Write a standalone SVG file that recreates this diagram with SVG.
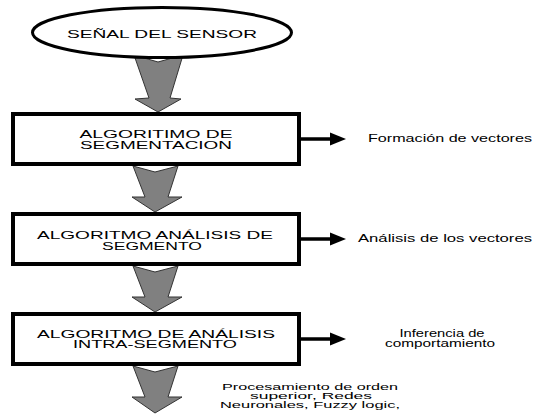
<svg xmlns="http://www.w3.org/2000/svg" width="534" height="415" viewBox="0 0 534 415">
<style>
.t{font-family:"Liberation Sans",Arial,sans-serif;font-size:11px;fill:#000;text-anchor:middle}
.s{font-family:"Liberation Sans",Arial,sans-serif;font-size:10.5px;fill:#000}
.b{font-family:"Liberation Sans",Arial,sans-serif;font-size:9px;fill:#000;text-anchor:middle}
.box{fill:#fff;stroke:#000;stroke-width:4}
.blk{fill:#808080;stroke:#333;stroke-width:1}
.side{stroke:#000;stroke-width:3.5;fill:none}
.head{fill:#000}
</style>
<rect width="534" height="415" fill="#fff"/>
<g id="connectors">
  <polygon class="blk" points="134,55 158,62 183,55 170,98 181,99 158,112 135,99 149,98"/>
  <polygon class="blk" points="133,166 155,172 178,166 168,197 182,197 155,212 132,197 145,197"/>
  <polygon class="blk" points="133,266 155,272 178,266 168,297 182,297 155,312 132,297 145,297"/>
  <polygon class="blk" points="133,366 155,372 178,366 168,397 182,397 155,413 132,397 145,397"/>
  <line class="side" x1="301" y1="139" x2="332" y2="139"/>
  <polygon class="head" points="330,132.5 346,139 330,145.5"/>
  <line class="side" x1="301" y1="239" x2="332" y2="239"/>
  <polygon class="head" points="330,232.5 346,239 330,245.5"/>
  <line class="side" x1="301" y1="339" x2="332" y2="339"/>
  <polygon class="head" points="330,332.5 346,339 330,345.5"/>
</g>
<g id="senal">
  <ellipse cx="162" cy="32.5" rx="129.5" ry="25" fill="#fff" stroke="#000" stroke-width="3"/>
  <text class="t" x="162" y="38" textLength="190" lengthAdjust="spacingAndGlyphs" style="font-size:11.5px">SEÑAL DEL SENSOR</text>
</g>
<g id="segmentacion">
  <rect class="box" x="13" y="114" width="286" height="50"/>
  <text class="t" x="156" y="138" textLength="153" lengthAdjust="spacingAndGlyphs">ALGORITIMO DE</text>
  <text class="t" x="156" y="148.5" textLength="152" lengthAdjust="spacingAndGlyphs">SEGMENTACION</text>
</g>
<g id="analisis">
  <rect class="box" x="13" y="214" width="286" height="50"/>
  <text class="t" x="155" y="239" textLength="236" lengthAdjust="spacingAndGlyphs">ALGORITMO ANÁLISIS DE</text>
  <text class="t" x="152" y="249.5" textLength="100" lengthAdjust="spacingAndGlyphs">SEGMENTO</text>
</g>
<g id="intra">
  <rect class="box" x="13" y="314" width="286" height="50"/>
  <text class="t" x="156" y="337.5" textLength="238" lengthAdjust="spacingAndGlyphs">ALGORITMO DE ANÁLISIS</text>
  <text class="t" x="155" y="348" textLength="164" lengthAdjust="spacingAndGlyphs">INTRA-SEGMENTO</text>
</g>
<g id="formacion">
  <text class="s" x="368" y="142" textLength="164" lengthAdjust="spacingAndGlyphs">Formación de vectores</text>
</g>
<g id="analisis-vectores">
  <text class="s" x="358" y="242" textLength="174" lengthAdjust="spacingAndGlyphs">Análisis de los vectores</text>
</g>
<g id="inferencia">
  <text class="b" x="442" y="337" textLength="85" lengthAdjust="spacingAndGlyphs" style="font-size:10px">Inferencia de</text>
  <text class="b" x="440" y="346.5" textLength="110" lengthAdjust="spacingAndGlyphs" style="font-size:10px">comportamiento</text>
</g>
<g id="procesamiento">
  <text class="b" x="310" y="390" textLength="176" lengthAdjust="spacingAndGlyphs">Procesamiento de orden</text>
  <text class="b" x="311" y="399" textLength="122" lengthAdjust="spacingAndGlyphs">superior, Redes</text>
  <text class="b" x="310" y="408" textLength="180" lengthAdjust="spacingAndGlyphs">Neuronales, Fuzzy logic,</text>
</g>
</svg>
